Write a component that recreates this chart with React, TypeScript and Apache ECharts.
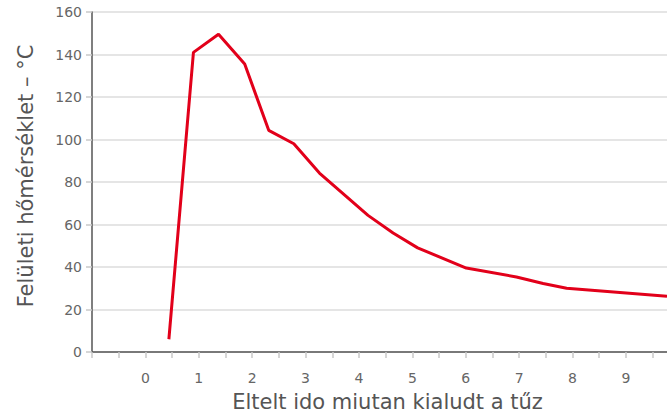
import React, { useEffect, useRef } from "react";
import * as echarts from "echarts";

const timeValues = [0.44, 0.9, 1.37, 1.86, 2.31, 2.78, 3.26, 4.17, 4.64, 5.1, 6.01, 6.95, 7.45, 7.89, 9.77];
const tempValues = [6, 141, 149.5, 135.5, 104.3, 98, 84.2, 64.3, 56, 49, 39.5, 35.3, 32.2, 30, 26.2];
const xLabels = ["0", "1", "2", "3", "4", "5", "6", "7", "8", "9"];
const yTicks = [0, 20, 40, 60, 80, 100, 120, 140, 160];

export default function App() {
  const ref = useRef<HTMLDivElement>(null);
  useEffect(() => {
    document.body.style.margin = "0";
    if (!ref.current) return;
    const chart = echarts.init(ref.current, null, { renderer: "svg", width: 667, height: 415 });
    const data = timeValues.map((t, i) => [t, tempValues[i]]);
    chart.setOption({
      animation: false,
      backgroundColor: "#ffffff",
      grid: { left: 92, right: 0, top: 12, bottom: 63, containLabel: false, outerBoundsMode: "none" },
      xAxis: {
        type: "value",
        min: -1,
        max: 9.77,
        interval: 0.5,
        name: "Eltelt ido miutan kialudt a tűz",
        nameLocation: "middle",
        nameGap: 39,
        nameTextStyle: { fontFamily: "DejaVu Sans", fontSize: 21, color: "#555", padding: [0, 0, 0, 16] },
        axisLine: { show: true, onZero: false, lineStyle: { color: "#555", width: 1.5 } },
        axisTick: { show: true, length: 6, lineStyle: { color: "#c8c8c8", width: 1.5 } },
        axisLabel: {
          margin: 19,
          fontFamily: "DejaVu Sans",
          fontSize: 14,
          color: "#666",
          showMaxLabel: false,
          formatter: (v: number) => {
            const s = String(v);
            return xLabels.includes(s) ? s : "";
          },
        },
        splitLine: { show: false },
      },
      yAxis: {
        type: "value",
        min: yTicks[0],
        max: yTicks[yTicks.length - 1],
        interval: 20,
        name: "Felületi hőmérséklet – °C",
        nameLocation: "middle",
        nameGap: 56,
        nameRotate: 90,
        nameTextStyle: { fontFamily: "DejaVu Sans", fontSize: 21, color: "#555", padding: [0, 0, 0, 12] },
        axisLine: { show: true, onZero: false, lineStyle: { color: "#555", width: 1.5 } },
        axisTick: { show: true, length: 6, lineStyle: { color: "#c8c8c8", width: 1.5 } },
        axisLabel: { margin: 10, fontFamily: "DejaVu Sans", fontSize: 14, color: "#666" },
        splitLine: { show: true, lineStyle: { color: "#dcdcdc", width: 1.5 } },
      },
      series: [
        {
          type: "line",
          data,
          symbol: "none",
          clip: true,
          lineStyle: { color: "#e2001a", width: 3 },
        },
      ],
    });
    return () => chart.dispose();
  }, []);
  return <div ref={ref} style={{ position: "fixed", left: 0, top: 0, width: 667, height: 415 }} />;
}
